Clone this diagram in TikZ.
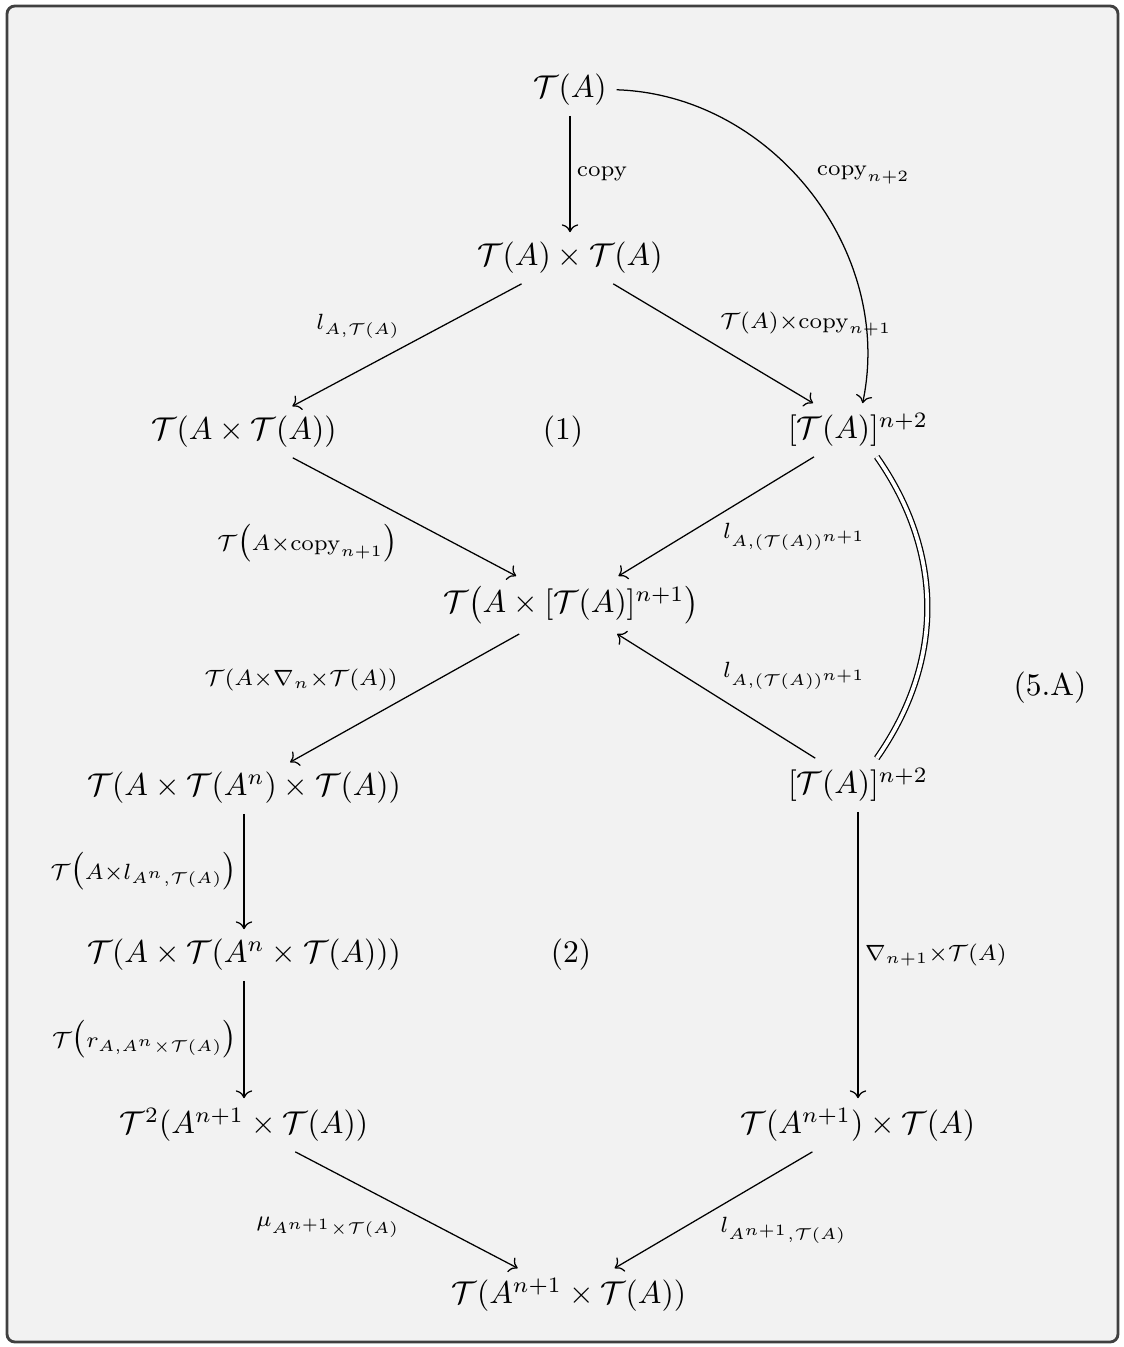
\documentclass[tikz,border=0pt]{standalone}
\usepackage{amsmath,amssymb,amsfonts}
\usepackage{xcolor}
\usepackage{tikz}
\usetikzlibrary{arrows.meta,positioning,calc}

\definecolor{framegray}{HTML}{404040}
\definecolor{panelgray}{HTML}{F2F2F2}

\begin{document}
\begin{tikzpicture}[
  x=0.3175pt, y=-0.3175pt,
  obj/.style={inner sep=3pt},
  lbl/.style={inner sep=2pt},
  arr/.style={-{Computer Modern Rightarrow}, line width=0.4pt},
  eq/.style={double, double distance=1.2pt, line width=0.4pt}
]
\useasboundingbox (0,0) rectangle (1123,1347);
\draw[framegray, line width=0.9pt, rounded corners=2.5pt, fill=panelgray] (7,6) rectangle (1118,1342);

\node[obj] (top) at (570,90) {$\mathcal{T}(A)$};
\node[obj] (prod) at (570,258) {$\mathcal{T}(A)\times\mathcal{T}(A)$};
\node[obj] (lft) at (244,432) {$\mathcal{T}(A\times\mathcal{T}(A))$};
\node (one) at (563,432) {$(1)$};
\node[obj] (pow) at (858,430) {$[\mathcal{T}(A)]^{n+2}$};
\node[obj] (mid) at (571,605) {$\mathcal{T}\bigl(A\times[\mathcal{T}(A)]^{n+1}\bigr)$};
\node[obj] (tri) at (244,788) {$\mathcal{T}(A\times\mathcal{T}(A^n)\times\mathcal{T}(A))$};
\node[obj] (powb) at (858,785) {$[\mathcal{T}(A)]^{n+2}$};
\node (five) at (1050,688) {(5.A)};
\node[obj] (nest) at (244,955) {$\mathcal{T}(A\times\mathcal{T}(A^n\times\mathcal{T}(A)))$};
\node (two) at (571,955) {$(2)$};
\node[obj] (sq) at (244,1125) {$\mathcal{T}^2(A^{n+1}\times\mathcal{T}(A))$};
\node[obj] (split) at (858,1125) {$\mathcal{T}(A^{n+1})\times\mathcal{T}(A)$};
\node[obj] (bot) at (569,1295) {$\mathcal{T}(A^{n+1}\times\mathcal{T}(A))$};

\draw[arr] (top) -- node[lbl, right] {$\scriptstyle\mathrm{copy}$} (prod);
\draw[arr] (top) to[bend left=50] node[lbl, pos=0.5, above right] {$\scriptstyle\mathrm{copy}_{n+2}$} (pow);
\draw[arr] (prod) -- node[lbl, above left] {$\scriptstyle l_{A,\mathcal{T}(A)}$} (lft);
\draw[arr] (prod) -- node[lbl, above right] {$\scriptstyle\mathcal{T}(A)\times\mathrm{copy}_{n+1}$} (pow);
\draw[arr] (lft) -- node[lbl, below left] {$\scriptstyle\mathcal{T}\bigl(A\times\mathrm{copy}_{n+1}\bigr)$} (mid);
\draw[arr] (pow) -- node[lbl, below right] {$\scriptstyle l_{A,(\mathcal{T}(A))^{n+1}}$} (mid);
\draw[arr] (mid) -- node[lbl, above left] {$\scriptstyle\mathcal{T}(A\times\nabla_n\times\mathcal{T}(A))$} (tri);
\draw[arr] (powb) -- node[lbl, above right] {$\scriptstyle l_{A,(\mathcal{T}(A))^{n+1}}$} (mid);
\draw[eq] (pow) to[bend left=35] (powb);
\draw[arr] (tri) -- node[lbl, left] {$\scriptstyle\mathcal{T}\bigl(A\times l_{A^n,\mathcal{T}(A)}\bigr)$} (nest);
\draw[arr] (nest) -- node[lbl, left] {$\scriptstyle\mathcal{T}\bigl(r_{A,A^n\times\mathcal{T}(A)}\bigr)$} (sq);
\draw[arr] (powb) -- node[lbl, right] {$\scriptstyle\nabla_{n+1}\times\mathcal{T}(A)$} (split);
\draw[arr] (sq) -- node[lbl, below left] {$\scriptstyle\mu_{A^{n+1}\times\mathcal{T}(A)}$} (bot);
\draw[arr] (split) -- node[lbl, below right] {$\scriptstyle l_{A^{n+1},\mathcal{T}(A)}$} (bot);
\end{tikzpicture}
\end{document}
